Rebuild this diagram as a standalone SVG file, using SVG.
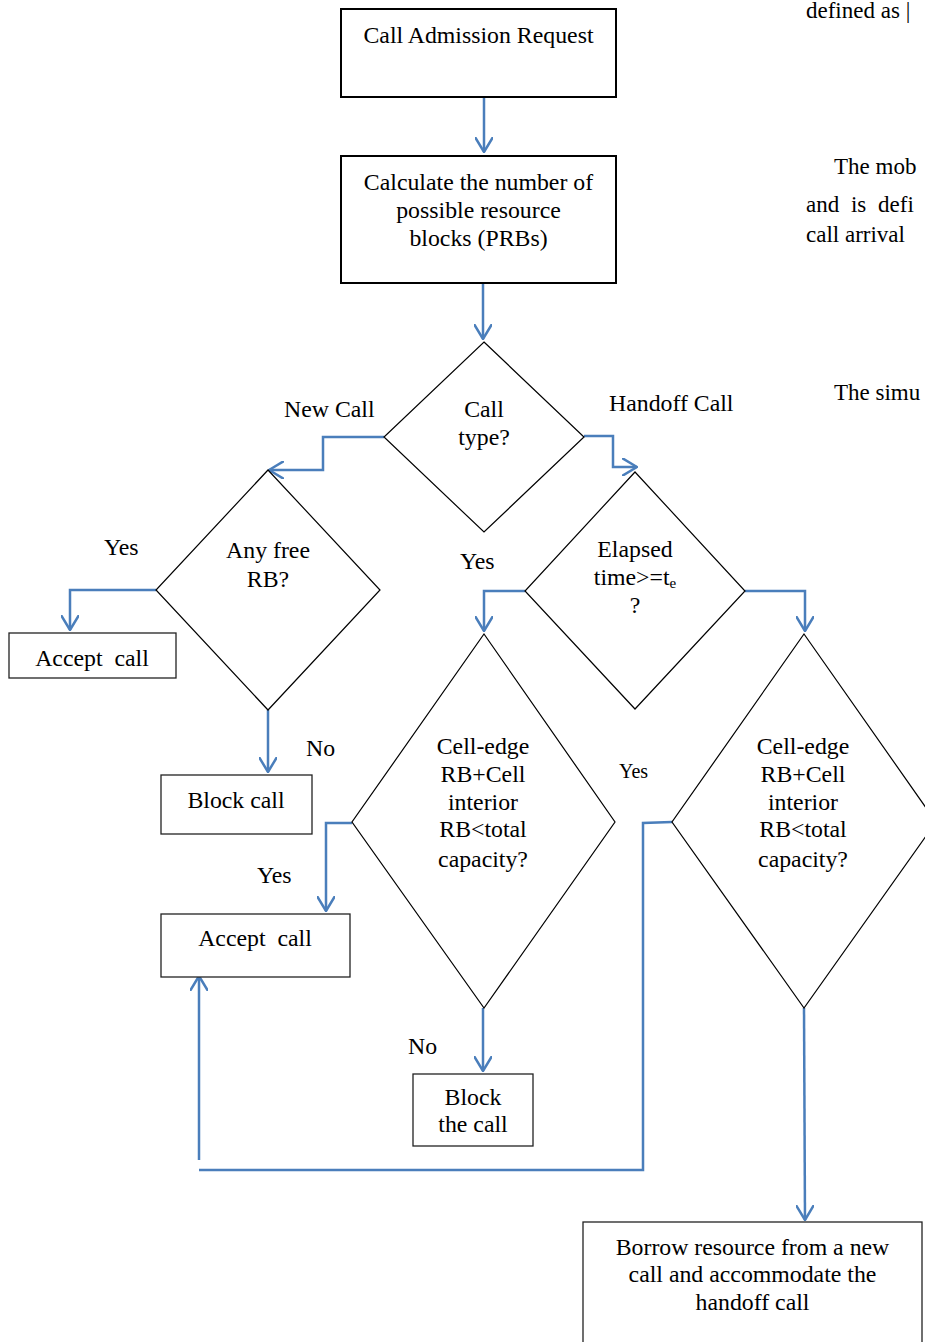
<svg xmlns="http://www.w3.org/2000/svg" width="925" height="1342" viewBox="0 0 925 1342">
<style>
  text { font-family: "Liberation Serif", "Times New Roman", serif; font-size: 23.8px; fill: #000; }
  .c { text-anchor: middle; }
  .bg { font-size: 23px; }
  .box { fill: #fff; stroke: #000; stroke-width: 2; }
  .box2 { fill: #fff; stroke: #222; stroke-width: 1.3; }
  .dia { fill: #fff; stroke: #000; stroke-width: 1.2; }
  .con { fill: none; stroke: #4A7EBB; stroke-width: 2.5; }
  .arr { marker-end: url(#ah); }
  .small { font-size: 20px; }
</style>
<defs>
  <marker id="ah" viewBox="0 0 16 18" refX="15" refY="9" markerWidth="16" markerHeight="18" markerUnits="userSpaceOnUse" orient="auto">
    <path d="M0,0 L15,9 L0,18" fill="none" stroke="#4A7EBB" stroke-width="2.5"/>
  </marker>
</defs>
<rect width="925" height="1342" fill="#fff"/>

<g id="background-text">
  <text class="bg" x="806" y="18">defined as |</text>
  <text class="bg" x="834" y="174">The mob</text>
  <text class="bg" x="806" y="212" word-spacing="6">and is defi</text>
  <text class="bg" x="806" y="242">call arrival</text>
  <text class="bg" x="834" y="400">The simu</text>
</g>

<g id="connectors">
  <line class="con arr" x1="484" y1="97" x2="484" y2="152"/>
  <line class="con arr" x1="483" y1="283" x2="483" y2="339"/>
  <polyline class="con arr" points="384,437 323,437 323,470 269,470"/>
  <polyline class="con arr" points="584,436 613,436 613,467 637,467"/>
  <polyline class="con arr" points="156,590 70,590 70,630"/>
  <line class="con arr" x1="268" y1="710" x2="268" y2="772"/>
  <polyline class="con arr" points="525,591 484,591 484,631"/>
  <polyline class="con arr" points="745,591 805,591 805,631"/>
  <polyline class="con arr" points="352,823 326,823 326,911"/>
  <line class="con arr" x1="483" y1="1008" x2="483" y2="1071"/>
  <polyline class="con" points="672,822 643,823 643,1170 199,1170"/>
  <line class="con arr" x1="199" y1="1160" x2="199" y2="976"/>
  <line class="con arr" x1="804" y1="1008" x2="805" y2="1220"/>
</g>

<g id="call-admission-request">
  <rect class="box" x="341" y="9" width="275" height="88"/>
  <text class="c" x="478.5" y="43">Call Admission Request</text>
</g>

<g id="calculate-prbs">
  <rect class="box" x="341" y="156" width="275" height="127"/>
  <text class="c" x="478.5" y="190">Calculate the number of</text>
  <text class="c" x="478.5" y="218">possible resource</text>
  <text class="c" x="478.5" y="246">blocks (PRBs)</text>
</g>

<g id="call-type">
  <polygon class="dia" points="484,342 584,437 484,532 384,437"/>
  <text class="c" x="484" y="417">Call</text>
  <text class="c" x="484" y="445">type?</text>
</g>

<g id="edge-labels">
  <text x="284" y="417">New Call</text>
  <text x="609" y="411">Handoff Call</text>
  <text x="104" y="555">Yes</text>
  <text x="306" y="756">No</text>
  <text x="460" y="569">Yes</text>
  <text x="257" y="883">Yes</text>
  <text x="408" y="1054">No</text>
  <text class="small" x="619" y="778">Yes</text>
</g>

<g id="any-free-rb">
  <polygon class="dia" points="268,470 380,590 268,710 156,590"/>
  <text class="c" x="268" y="558">Any free</text>
  <text class="c" x="268" y="587">RB?</text>
</g>

<g id="accept-call-1">
  <rect class="box2" x="9" y="633" width="167" height="45"/>
  <text class="c" x="92" y="666" xml:space="preserve">Accept  call</text>
</g>

<g id="block-call">
  <rect class="box2" x="161" y="775" width="151" height="59"/>
  <text class="c" x="236" y="808">Block call</text>
</g>

<g id="elapsed-time">
  <polygon class="dia" points="635,472 745,591 635,709 525,591"/>
  <text class="c" x="635" y="557">Elapsed</text>
  <text class="c" x="635" y="585">time&gt;=t<tspan font-size="15" dy="3">e</tspan></text>
  <text class="c" x="635" y="613">?</text>
</g>

<g id="capacity-check-left">
  <polygon class="dia" points="484,634 615,822 484,1008 352,822"/>
  <text class="c" x="483" y="754">Cell-edge</text>
  <text class="c" x="483" y="782">RB+Cell</text>
  <text class="c" x="483" y="810">interior</text>
  <text class="c" x="483" y="837">RB&lt;total</text>
  <text class="c" x="483" y="867">capacity?</text>
</g>

<g id="accept-call-2">
  <rect class="box2" x="161" y="914" width="189" height="63"/>
  <text class="c" x="255" y="946" xml:space="preserve">Accept  call</text>
</g>

<g id="block-the-call">
  <rect class="box2" x="413" y="1074" width="120" height="72"/>
  <text class="c" x="473" y="1105">Block</text>
  <text class="c" x="473" y="1132">the call</text>
</g>

<g id="capacity-check-right">
  <polygon class="dia" points="804,634 936,822 804,1008 672,822"/>
  <text class="c" x="803" y="754">Cell-edge</text>
  <text class="c" x="803" y="782">RB+Cell</text>
  <text class="c" x="803" y="810">interior</text>
  <text class="c" x="803" y="837">RB&lt;total</text>
  <text class="c" x="803" y="867">capacity?</text>
</g>

<g id="borrow-resource">
  <rect class="box2" x="583" y="1222" width="339" height="130"/>
  <text class="c" x="752.5" y="1255">Borrow resource from a new</text>
  <text class="c" x="752.5" y="1282">call and accommodate the</text>
  <text class="c" x="752.5" y="1310">handoff call</text>
</g>
</svg>
